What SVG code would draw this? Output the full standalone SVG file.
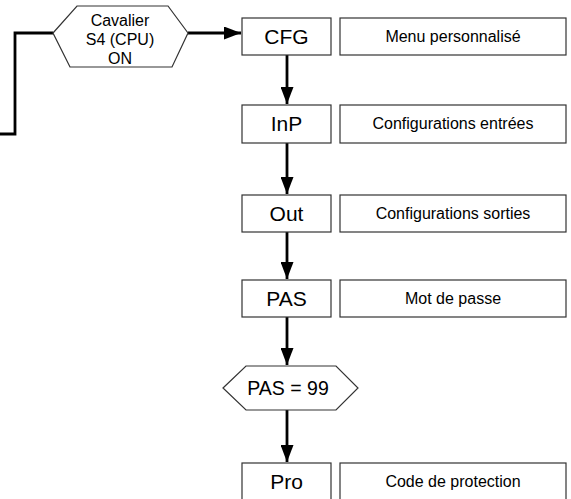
<svg xmlns="http://www.w3.org/2000/svg" width="571" height="499" viewBox="0 0 571 499">
<defs>
<marker id="ah" markerUnits="userSpaceOnUse" markerWidth="18" markerHeight="13" refX="17" refY="6.5" orient="auto">
<path d="M0,0 L17,6.5 L0,13 z" fill="#000"/>
</marker>
<style>
.box{fill:#fff;stroke:#333;stroke-width:1.2}
.hex{fill:#fff;stroke:#333;stroke-width:1.2}
.lbl{font-family:"Liberation Sans",Arial,sans-serif;font-size:21px;fill:#000;text-anchor:middle}
.desc{font-family:"Liberation Sans",Arial,sans-serif;font-size:16px;fill:#000;text-anchor:middle}
.htxt{font-family:"Liberation Sans",Arial,sans-serif;font-size:16px;fill:#000;text-anchor:middle}
.con{fill:none;stroke:#000;stroke-width:2.8}
</style>
</defs>
<rect width="571" height="499" fill="#fff"/>
<g id="connectors">
<polyline class="con" points="53,33 15,33 15,134 0,134"/>
<line class="con" x1="188" y1="33" x2="241" y2="33" marker-end="url(#ah)"/>
<line class="con" x1="287" y1="55" x2="287" y2="104" marker-end="url(#ah)"/>
<line class="con" x1="287" y1="143" x2="287" y2="194" marker-end="url(#ah)"/>
<line class="con" x1="287" y1="232" x2="287" y2="279" marker-end="url(#ah)"/>
<line class="con" x1="287" y1="317" x2="287" y2="365" marker-end="url(#ah)"/>
<line class="con" x1="287" y1="410" x2="287" y2="462" marker-end="url(#ah)"/>
</g>
<g id="cavalier">
<polygon class="hex" points="53,33 77,6 168,6 188,33 172,67 70,67"/>
<text class="htxt" x="120" y="26">Cavalier</text>
<text class="htxt" x="120" y="45">S4 (CPU)</text>
<text class="htxt" x="120" y="64">ON</text>
</g>
<g id="cfg">
<rect class="box" x="242" y="18" width="89" height="37"/>
<text class="lbl" x="286.5" y="44">CFG</text>
</g>
<g id="cfg-desc">
<rect class="box" x="340" y="18" width="226" height="37"/>
<text class="desc" x="453" y="42">Menu personnalisé</text>
</g>
<g id="inp">
<rect class="box" x="242" y="105" width="89" height="38"/>
<text class="lbl" x="286.5" y="131">InP</text>
</g>
<g id="inp-desc">
<rect class="box" x="340" y="105" width="226" height="38"/>
<text class="desc" x="453" y="129">Configurations entrées</text>
</g>
<g id="out">
<rect class="box" x="242" y="195" width="89" height="37"/>
<text class="lbl" x="286.5" y="221">Out</text>
</g>
<g id="out-desc">
<rect class="box" x="340" y="195" width="226" height="37"/>
<text class="desc" x="453" y="219">Configurations sorties</text>
</g>
<g id="pas">
<rect class="box" x="242" y="280" width="89" height="37"/>
<text class="lbl" x="286.5" y="306">PAS</text>
</g>
<g id="pas-desc">
<rect class="box" x="340" y="280" width="226" height="37"/>
<text class="desc" x="453" y="304">Mot de passe</text>
</g>
<g id="pas99">
<polygon class="hex" points="223,388 246,366 336,366 358,388 336,410 246,410"/>
<text class="lbl" x="288" y="395" style="font-size:19.5px">PAS = 99</text>
</g>
<g id="pro">
<rect class="box" x="242" y="463" width="89" height="38"/>
<text class="lbl" x="286.5" y="489">Pro</text>
</g>
<g id="pro-desc">
<rect class="box" x="340" y="463" width="226" height="38"/>
<text class="desc" x="453" y="487">Code de protection</text>
</g>
</svg>
